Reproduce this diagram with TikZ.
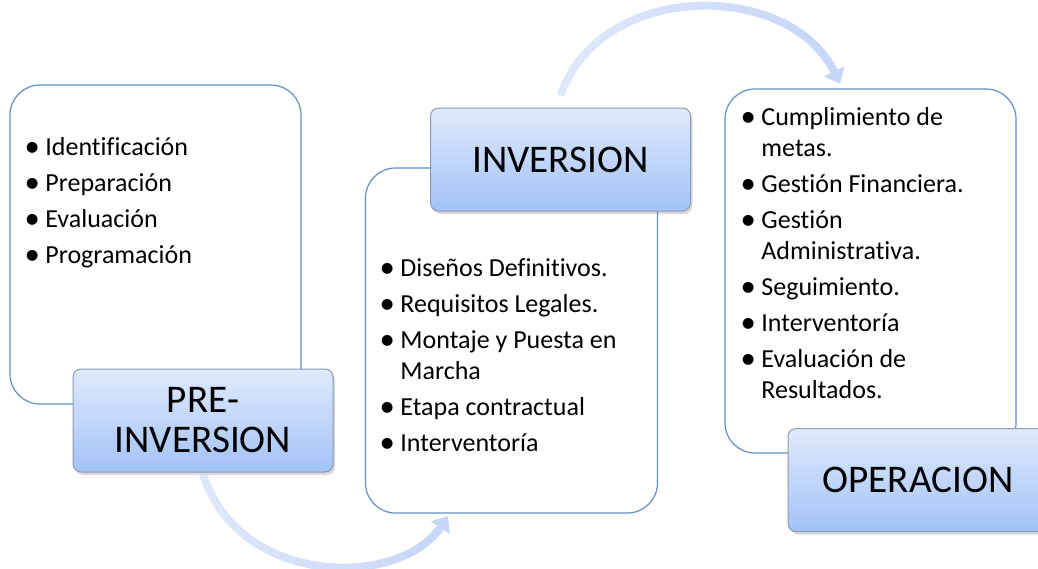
\documentclass[tikz,border=0pt]{standalone}
\usepackage{fontspec}
\setmainfont{Carlito}[Ligatures=NoCommon]
\usetikzlibrary{arrows.meta, shadows, fadings}
\definecolor{boxline}{RGB}{100,142,200}
\definecolor{titleline}{RGB}{140,155,180}
\definecolor{ttop}{RGB}{224,234,252}
\definecolor{tbot}{RGB}{162,194,246}
\definecolor{arrowc}{RGB}{198,214,247}
\tikzfading[name=flowfade, left color=transparent!45, right color=transparent!0]
\newcommand{\itm}[1]{\hangindent=10pt\hangafter=1\noindent\makebox[10pt][l]{\hspace{-0.4pt}\raisebox{-0.9pt}{\scalebox{1.18}{\textbullet}}}#1\par\setlength{\parskip}{2.5pt}}

\begin{document}
\begin{tikzpicture}[x=0.5pt, y=-0.5pt,
    stage/.style={draw=boxline, line width=0.6pt, rounded corners=15pt, fill=white, inner sep=0pt},
    phase/.style={draw=titleline, line width=0.5pt, rounded corners=4pt, top color=ttop, bottom color=tbot,
        drop shadow={shadow xshift=1pt, shadow yshift=-1.5pt, opacity=0.3},
        minimum width=130pt, minimum height=51.5pt, inner sep=0pt, align=center,
        font=\fontsize{19.6}{20}\selectfont},
    items/.style={anchor=base west, text width=135pt, align=flush left, inner sep=0pt,
        font=\fontsize{13}{15.5}\selectfont},
    flow/.style={draw=arrowc, line width=4pt, path fading=flowfade, -{Triangle[width=11pt,length=7pt]}}]
        \useasboundingbox (0,0) rectangle (1038,568);
        \coordinate (e1) at (448,516);
        \coordinate (e2) at (840,84);
        \node[stage, minimum width=145.5pt, minimum height=159.5pt] (prebox) at (155.5,244.5) {};
        \node[stage, minimum width=146pt, minimum height=172.5pt] (invbox) at (511.5,340.5) {};
        \node[stage, minimum width=145.5pt, minimum height=182pt] (opbox) at (870.5,271) {};
        \node[items] (prelist) at (25,155) {\itm{Identificación}\itm{Preparación}\itm{Evaluación}\itm{Programación}};
        \node[items] (invlist) at (380,276) {\itm{Diseños Definitivos.}\itm{Requisitos Legales.}\itm{Montaje y Puesta en\newline Marcha}\itm{Etapa contractual}\itm{Interventoría}};
        \node[items] (oplist) at (741,125) {\itm{Cumplimiento de\newline metas.}\itm{Gestión Financiera.}\itm{Gestión\newline Administrativa.}\itm{Seguimiento.}\itm{Interventoría}\itm{Evaluación de\newline Resultados.}};
        \node[phase] (pre) at (203,420.5) {PRE-\\INVERSION};
        \node[phase] (inv) at (560.5,159.5) {INVERSION};
        \node[phase] (op) at (918,480) {OPERACION};
        \draw[flow] ([yshift=-1pt]pre.south) .. controls (240,588) and (400,588) .. (e1);
        \draw[flow] ([yshift=6pt]inv.north) .. controls (600,-20) and (790,-20) .. (e2);
    \end{tikzpicture}
\end{document}
